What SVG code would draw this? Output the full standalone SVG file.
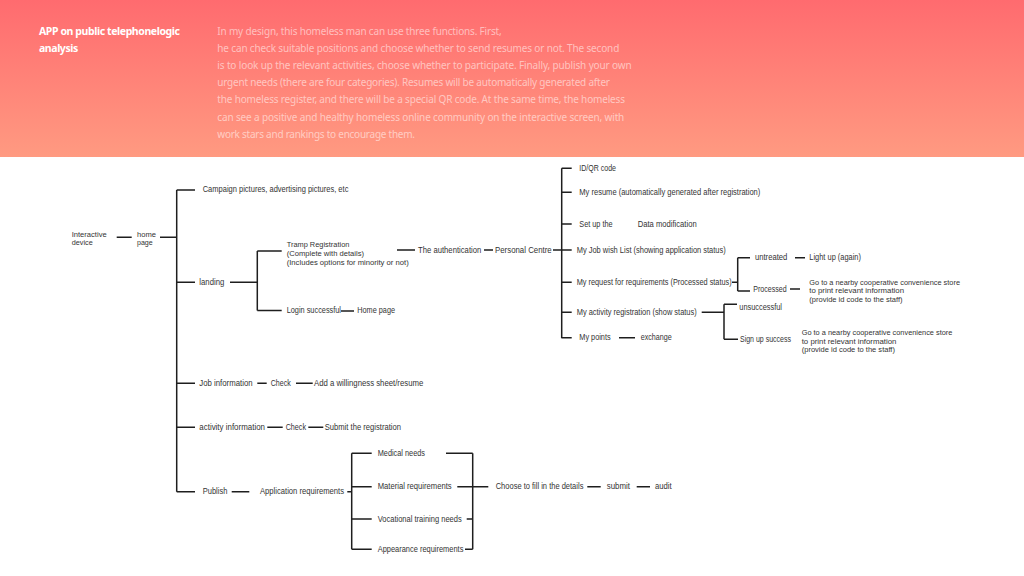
<svg xmlns="http://www.w3.org/2000/svg" width="1024" height="576" viewBox="0 0 1024 576">
<defs>
<linearGradient id="hg" x1="0" y1="0" x2="0" y2="1">
<stop offset="0" stop-color="#ff6b6f"/>
<stop offset="1" stop-color="#ff9a81"/>
</linearGradient>
<style>
.t{font-family:"Liberation Sans",Arial,sans-serif;font-size:8.2px;fill:#333}
.m{font-family:"Liberation Sans",Arial,sans-serif;font-size:7.6px;fill:#333}
.h{font-family:"Noto Sans","Liberation Sans",sans-serif;font-size:10.5px;font-weight:bold;fill:#fff}
.p{font-family:"Noto Sans","Liberation Sans",sans-serif;font-size:10px;fill:#fff;fill-opacity:0.55}
.c path{fill:none;stroke:#1e1e1e;stroke-width:1.5}
</style>
</defs>
<rect width="1024" height="576" fill="#fff"/>
<g id="header">
<rect x="0" y="0" width="1024" height="157" fill="url(#hg)"/>
<text class="h" lengthAdjust="spacingAndGlyphs"><tspan x="39" y="34.5" textLength="141">APP on public telephonelogic</tspan><tspan x="39" y="51.7" textLength="39.3">analysis</tspan></text>
<text class="p" lengthAdjust="spacingAndGlyphs">
<tspan x="217.3" y="34.5" textLength="284.4">In my design, this homeless man can use three functions. First,</tspan>
<tspan x="217.3" y="51.7" textLength="402">he can check suitable positions and choose whether to send resumes or not. The second</tspan>
<tspan x="217.3" y="68.9" textLength="414.4">is to look up the relevant activities, choose whether to participate. Finally, publish your own</tspan>
<tspan x="217.3" y="86.1" textLength="392.7">urgent needs (there are four categories). Resumes will be automatically generated after</tspan>
<tspan x="217.3" y="103.3" textLength="407.7">the homeless register, and there will be a special QR code. At the same time, the homeless</tspan>
<tspan x="217.3" y="120.6" textLength="407">can see a positive and healthy homeless online community on the interactive screen, with</tspan>
<tspan x="217.3" y="137.8" textLength="197.7">work stars and rankings to encourage them.</tspan>
</text>
</g>
<g class="c" id="connectors">
<path d="M116.7 237.3H131.7M160 237.3H176.7M176.7 190V491.7M176.7 190H195M176.7 282.3H195M176.7 383.3H195M176.7 427.3H195M176.7 491.7H195"/>
<path d="M230 282.3H257.3M257.3 251V310.5M257.3 251H281.7M257.3 310.5H281.7M341 311H354"/>
<path d="M397 250H415M484 250H493M553 250H561.7M561.7 168.3V338.3M561.7 168.3H571.7M561.7 192.3H571.7M561.7 224H571.7M561.7 250H571.7M561.7 282.3H571.7M561.7 312.3H571.7M561.7 337.7H571.7M619 337.7H635"/>
<path d="M732 282.3H737.7M737.7 257.7V291M737.7 257.7H750M737.7 291H750M795 257.7H805M790 289H800"/>
<path d="M701.7 312.3H724M724 304.3V339.3M724 304.3H737M724 339.3H738"/>
<path d="M257.3 383.3H266.7M296 383.3H312.7M267.3 427.3H282.7M308.3 427.3H323.3"/>
<path d="M231.7 491.7H249.3M347.3 491.7H351.7M351.7 453.3V549.3M351.7 453.3H371.7M351.7 486.7H371.7M351.7 519H371.7M351.7 549.3H371.7M446 453.3H472.7M457.3 486.7H488.3M466.7 519H472.7M465 549.3H472.7M472.7 453.3V549.3M587.3 486.7H600.7M636.7 486.7H650"/>
</g>
<g id="nodes">
<g id="interactive-device"><text class="m" x="71.7" y="236.6" textLength="35" lengthAdjust="spacingAndGlyphs">Interactive</text><text class="m" x="71.7" y="245.3" textLength="21" lengthAdjust="spacingAndGlyphs">device</text></g>
<g id="home-page"><text class="m" x="137" y="236.6" textLength="19" lengthAdjust="spacingAndGlyphs">home</text><text class="m" x="137" y="245.3" textLength="15.7" lengthAdjust="spacingAndGlyphs">page</text></g>
<g id="campaign"><text class="t" x="202.7" y="192.3" textLength="145.7" lengthAdjust="spacingAndGlyphs">Campaign pictures, advertising pictures, etc</text></g>
<g id="landing"><text class="t" x="199.3" y="284.6" textLength="25" lengthAdjust="spacingAndGlyphs">landing</text></g>
<g id="tramp-registration"><text class="m" x="286.7" y="247.3" textLength="62.7" lengthAdjust="spacingAndGlyphs">Tramp Registration</text><text class="m" x="286.7" y="255.9" textLength="77.3" lengthAdjust="spacingAndGlyphs">(Complete with details)</text><text class="m" x="286.7" y="264.5" textLength="122" lengthAdjust="spacingAndGlyphs">(Includes options for minority or not)</text></g>
<g id="login-successful"><text class="t" x="286.7" y="313.3" textLength="54.3" lengthAdjust="spacingAndGlyphs">Login successful</text></g>
<g id="home-page-2"><text class="t" x="357.3" y="313.3" textLength="37.7" lengthAdjust="spacingAndGlyphs">Home page</text></g>
<g id="authentication"><text class="t" x="418" y="252.5" textLength="63.3" lengthAdjust="spacingAndGlyphs">The authentication</text></g>
<g id="personal-centre"><text class="t" x="495" y="252.5" textLength="56.7" lengthAdjust="spacingAndGlyphs">Personal Centre</text></g>
<g id="id-qr"><text class="t" x="579.3" y="170.8" textLength="36.7" lengthAdjust="spacingAndGlyphs">ID/QR code</text></g>
<g id="my-resume"><text class="t" x="579.3" y="194.8" textLength="181" lengthAdjust="spacingAndGlyphs">My resume (automatically generated after registration)</text></g>
<g id="set-up"><text class="t" x="579.3" y="226.5" textLength="33.3" lengthAdjust="spacingAndGlyphs">Set up the</text></g>
<g id="data-modification"><text class="t" x="637.7" y="226.5" textLength="59" lengthAdjust="spacingAndGlyphs">Data modification</text></g>
<g id="job-wish-list"><text class="t" x="576.7" y="252.5" textLength="149" lengthAdjust="spacingAndGlyphs">My Job wish List (showing application status)</text></g>
<g id="my-request"><text class="t" x="576.7" y="284.8" textLength="155" lengthAdjust="spacingAndGlyphs">My request for requirements (Processed status)</text></g>
<g id="my-activity"><text class="t" x="576.7" y="314.8" textLength="120" lengthAdjust="spacingAndGlyphs">My activity registration (show status)</text></g>
<g id="my-points"><text class="t" x="579.3" y="340.2" textLength="31.3" lengthAdjust="spacingAndGlyphs">My points</text></g>
<g id="exchange"><text class="t" x="640.7" y="340.2" textLength="31" lengthAdjust="spacingAndGlyphs">exchange</text></g>
<g id="untreated"><text class="t" x="755" y="260.2" textLength="32.3" lengthAdjust="spacingAndGlyphs">untreated</text></g>
<g id="light-up"><text class="t" x="809.3" y="260.2" textLength="51.7" lengthAdjust="spacingAndGlyphs">Light up (again)</text></g>
<g id="processed"><text class="t" x="753.3" y="291.5" textLength="33.3" lengthAdjust="spacingAndGlyphs">Processed</text></g>
<g id="go-store-1"><text class="m" x="809.3" y="284.7" textLength="150.7" lengthAdjust="spacingAndGlyphs">Go to a nearby cooperative convenience store</text><text class="m" x="809.3" y="293.3" textLength="94.7" lengthAdjust="spacingAndGlyphs">to print relevant information</text><text class="m" x="809.3" y="301.9" textLength="93.3" lengthAdjust="spacingAndGlyphs">(provide id code to the staff)</text></g>
<g id="unsuccessful"><text class="t" x="739.3" y="310.2" textLength="42.7" lengthAdjust="spacingAndGlyphs">unsuccessful</text></g>
<g id="sign-up-success"><text class="t" x="740" y="342" textLength="51" lengthAdjust="spacingAndGlyphs">Sign up success</text></g>
<g id="go-store-2"><text class="m" x="801.7" y="335.2" textLength="150.7" lengthAdjust="spacingAndGlyphs">Go to a nearby cooperative convenience store</text><text class="m" x="801.7" y="343.8" textLength="94.7" lengthAdjust="spacingAndGlyphs">to print relevant information</text><text class="m" x="801.7" y="352.4" textLength="93.3" lengthAdjust="spacingAndGlyphs">(provide id code to the staff)</text></g>
<g id="job-information"><text class="t" x="199.3" y="385.8" textLength="53.3" lengthAdjust="spacingAndGlyphs">Job information</text></g>
<g id="check-1"><text class="t" x="270.7" y="385.8" textLength="20" lengthAdjust="spacingAndGlyphs">Check</text></g>
<g id="willingness"><text class="t" x="314" y="385.8" textLength="109.3" lengthAdjust="spacingAndGlyphs">Add a willingness sheet/resume</text></g>
<g id="activity-information"><text class="t" x="199.3" y="429.8" textLength="65.7" lengthAdjust="spacingAndGlyphs">activity information</text></g>
<g id="check-2"><text class="t" x="285.7" y="429.8" textLength="20.3" lengthAdjust="spacingAndGlyphs">Check</text></g>
<g id="submit-registration"><text class="t" x="324.7" y="429.8" textLength="76.3" lengthAdjust="spacingAndGlyphs">Submit the registration</text></g>
<g id="publish"><text class="t" x="202.7" y="494.2" textLength="24.7" lengthAdjust="spacingAndGlyphs">Publish</text></g>
<g id="application-requirements"><text class="t" x="260" y="494.2" textLength="84" lengthAdjust="spacingAndGlyphs">Application requirements</text></g>
<g id="medical"><text class="t" x="377.7" y="455.8" textLength="47.3" lengthAdjust="spacingAndGlyphs">Medical needs</text></g>
<g id="material"><text class="t" x="377.7" y="489.2" textLength="74" lengthAdjust="spacingAndGlyphs">Material requirements</text></g>
<g id="vocational"><text class="t" x="377.7" y="521.5" textLength="84" lengthAdjust="spacingAndGlyphs">Vocational training needs</text></g>
<g id="appearance"><text class="t" x="377.7" y="551.8" textLength="85.7" lengthAdjust="spacingAndGlyphs">Appearance requirements</text></g>
<g id="choose-details"><text class="t" x="495.7" y="489.2" textLength="87.7" lengthAdjust="spacingAndGlyphs">Choose to fill in the details</text></g>
<g id="submit"><text class="t" x="606.7" y="489.2" textLength="23.3" lengthAdjust="spacingAndGlyphs">submit</text></g>
<g id="audit"><text class="t" x="655" y="489.2" textLength="16.7" lengthAdjust="spacingAndGlyphs">audit</text></g>
</g>
</svg>
